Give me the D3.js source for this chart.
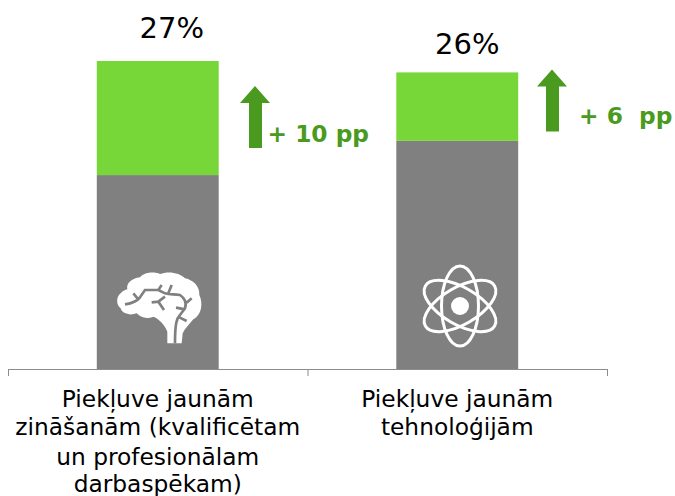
<!DOCTYPE html>
<html>
<head>
<meta charset="utf-8">
<script src="https://cdn.jsdelivr.net/npm/d3@7"></script>
<style>
    html, body { margin: 0; padding: 0; background: #fff; }
    text { font-family: "DejaVu Sans", sans-serif; }
</style>
</head>
<body>
<div id="chart"></div>
<script>
const categories = ['knowledge', 'technology'];
const categoryLines = [
    ['Piekļuve jaunām', 'zināšanām (kvalificētam', 'un profesionālam', 'darbaspēkam)'],
    ['Piekļuve jaunām', 'tehnoloģijām'],
];
const baseValues = [17, 20];
const gainValues = [10, 6];
const totalLabels = ['27%', '26%'];
const gainLabels = ['+ 10 pp', '+ 6  pp'];

const width = 675;
const height = 496;
const baseline = 369;

const svg = d3.select('#chart')
    .append('svg')
    .attr('width', width)
    .attr('height', height)
    .style('display', 'block');

const x = d3.scaleBand()
    .domain(categories)
    .range([8, 607])
    .paddingInner(0.593)
    .paddingOuter(0.2965);

const y = d3.scaleLinear()
    .domain([0, 27])
    .range([baseline, 61]);

// axis only has the three separator ticks, no labels
const xTicks = d3.scaleLinear().domain([0, categories.length]).range([8, 607]);
const axis = svg.append('g')
    .attr('transform', `translate(0,${baseline})`)
    .call(d3.axisBottom(xTicks)
        .tickValues([0, 1, 2])
        .tickSizeOuter(0)
        .tickSize(7)
        .tickFormat(''));
axis.selectAll('path, line').attr('stroke', '#8c8c8c').attr('stroke-width', 1);

const bars = svg.append('g')
    .selectAll('g')
    .data(categories)
    .join('g');

bars.append('rect')
    .attr('x', d => x(d))
    .attr('width', x.bandwidth())
    .attr('y', (d, i) => y(baseValues[i]))
    .attr('height', (d, i) => y(0) - y(baseValues[i]))
    .attr('fill', '#808080');

bars.append('rect')
    .attr('x', d => x(d))
    .attr('width', x.bandwidth())
    .attr('y', (d, i) => y(baseValues[i] + gainValues[i]))
    .attr('height', (d, i) => y(baseValues[i]) - y(baseValues[i] + gainValues[i]))
    .attr('fill', '#78d738');

// total above each bar
const totalOffsets = [-23, -18];
bars.append('text')
    .attr('x', (d, i) => x(d) + x.bandwidth() / 2 + (i === 0 ? 14 : 10))
    .attr('y', (d, i) => y(baseValues[i] + gainValues[i]) + totalOffsets[i])
    .attr('text-anchor', 'middle')
    .attr('font-size', 29)
    .attr('fill', '#000')
    .text((d, i) => totalLabels[i]);

// green arrows, placed from the top of each bar
const arrowShape = 'M0,0 L15,17 L7,17 L7,62 L-6,62 L-6,17 L-15,17 Z';
const arrowX = [255, 552];
const arrowTop = [25, -3];
bars.append('path')
    .attr('d', arrowShape)
    .attr('transform', (d, i) => `translate(${arrowX[i]},${y(baseValues[i] + gainValues[i]) + arrowTop[i]})`)
    .attr('fill', '#4a9a1f');

const gainX = [267.5, 579];
const gainY = [81, 52];
bars.append('text')
    .attr('x', (d, i) => gainX[i])
    .attr('y', (d, i) => y(baseValues[i] + gainValues[i]) + gainY[i])
    .attr('font-size', 23.3)
    .attr('font-weight', 'bold')
    .attr('fill', '#4a9a1f')
    .style('white-space', 'pre')
    .text((d, i) => gainLabels[i]);

// category labels
const lineY = [407, 435, 465, 492];
bars.append('text')
    .attr('text-anchor', 'middle')
    .attr('font-size', 23.3)
    .attr('fill', '#000')
    .selectAll('tspan')
    .data((d, i) => categoryLines[i].map(line => ({ line, cx: x(d) + x.bandwidth() / 2 })))
    .join('tspan')
    .attr('x', d => d.cx)
    .attr('y', (d, i) => lineY[i])
    .text(d => d.line);

// brain icon, traced at 3x
const brain = svg.append('g').attr('transform', 'translate(90,260) scale(0.3333)');
brain.append('path')
    .attr('d', 'M232,250 L232,215 C225,195 205,175 190,170 C170,178 150,172 140,160 C120,168 95,160 92,145 C78,135 78,110 92,100 C100,92 105,90 112,88 C108,70 125,55 150,52 C165,35 195,35 210,42 C235,32 270,38 285,55 C310,60 330,80 328,105 C340,130 335,165 310,178 C300,190 285,205 278,220 L275,250 Z')
    .attr('fill', '#fff');
brain.append('path')
    .attr('d', 'M105,133 C125,130 140,125 150,112 L165,90 L205,90 L215,75 M130,100 L145,118 M205,90 L225,100 C240,105 250,102 270,105 C285,115 290,130 285,145 L270,165 C260,175 255,190 255,250 M245,75 L235,100 M185,127 L205,125 L222,150 M205,125 L225,110 M290,128 L305,115 M258,143 L285,148 M268,172 L290,183')
    .attr('fill', 'none')
    .attr('stroke', '#808080')
    .attr('stroke-width', 8);

// atom icon
const atom = svg.append('g').attr('transform', 'translate(460,306)');
atom.selectAll('ellipse')
    .data([0, 60, 120])
    .join('ellipse')
    .attr('rx', 18.5)
    .attr('ry', 40)
    .attr('transform', d => `rotate(${d})`)
    .attr('fill', 'none')
    .attr('stroke', '#fff')
    .attr('stroke-width', 3);
atom.append('circle').attr('r', 9).attr('fill', '#fff');
</script>
</body>
</html>
